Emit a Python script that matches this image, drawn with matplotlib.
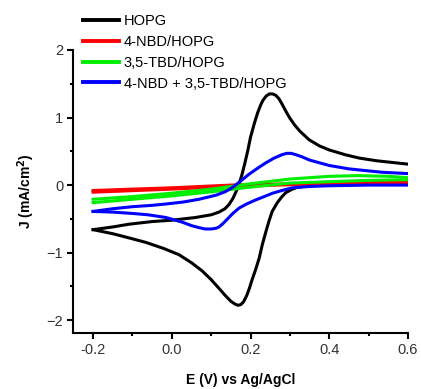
import matplotlib
matplotlib.use("Agg")
import matplotlib.pyplot as plt
from matplotlib.ticker import MultipleLocator

plt.rcParams['font.family'] = ['Liberation Sans', 'DejaVu Sans']

labels = ['HOPG', '4-NBD/HOPG', '3,5-TBD/HOPG', '4-NBD + 3,5-TBD/HOPG']
colors = ['black', '#ff0000', '#00ee00', '#0000ff']

# HOPG (forward / reverse sweep)
hopg_e_fwd = [-0.20, -0.15, -0.11, -0.05, 0.00, 0.06, 0.10, 0.12, 0.135, 0.145, 0.155,
              0.163, 0.170, 0.178, 0.185, 0.193, 0.200, 0.210, 0.218, 0.226, 0.232, 0.240,
              0.248, 0.256, 0.264, 0.272, 0.280, 0.290, 0.300, 0.312, 0.325, 0.349, 0.375,
              0.40, 0.44, 0.476, 0.52, 0.552, 0.60]
hopg_j_fwd = [-0.66, -0.62, -0.58, -0.54, -0.52, -0.48, -0.44, -0.40, -0.35, -0.29, -0.20,
              -0.10, 0.00, 0.15, 0.31, 0.51, 0.71, 0.92, 1.07, 1.19, 1.26, 1.32,
              1.35, 1.35, 1.33, 1.28, 1.20, 1.09, 0.99, 0.89, 0.80, 0.67, 0.58,
              0.52, 0.45, 0.40, 0.36, 0.34, 0.31]
hopg_e_rev = [0.60, 0.50, 0.40, 0.35, 0.32, 0.306, 0.29, 0.28, 0.268, 0.255, 0.247, 0.239,
              0.230, 0.222, 0.213, 0.204, 0.197, 0.190, 0.182, 0.175, 0.168, 0.160, 0.150,
              0.135, 0.120, 0.100, 0.077, 0.050, 0.018, -0.02, -0.065, -0.11, -0.15, -0.20]
hopg_j_rev = [0.02, 0.01, 0.00, -0.01, -0.03, -0.06, -0.11, -0.17, -0.26, -0.39, -0.53, -0.69,
              -0.88, -1.08, -1.25, -1.40, -1.53, -1.64, -1.73, -1.77, -1.78, -1.76, -1.72,
              -1.63, -1.53, -1.40, -1.27, -1.15, -1.03, -0.94, -0.85, -0.78, -0.72, -0.66]

# 4-NBD/HOPG
nbd_e_fwd = [-0.20, 0.00, 0.15, 0.30, 0.45, 0.60]
nbd_j_fwd = [-0.08, -0.04, 0.00, 0.02, 0.035, 0.045]
nbd_e_rev = [0.60, 0.45, 0.30, 0.15, 0.00, -0.20]
nbd_j_rev = [0.035, 0.025, 0.005, -0.02, -0.06, -0.105]

# 3,5-TBD/HOPG
tbd_e_fwd = [-0.20, -0.10, 0.00, 0.10, 0.20, 0.30, 0.40, 0.47, 0.55, 0.60]
tbd_j_fwd = [-0.21, -0.17, -0.12, -0.06, 0.02, 0.09, 0.13, 0.14, 0.13, 0.11]
tbd_e_rev = [0.60, 0.50, 0.40, 0.30, 0.20, 0.10, 0.00, -0.10, -0.20]
tbd_j_rev = [0.08, 0.07, 0.05, 0.03, -0.03, -0.10, -0.16, -0.21, -0.26]

# 4-NBD + 3,5-TBD/HOPG
mix_e_fwd = [-0.20, -0.15, -0.10, -0.05, -0.015, 0.03, 0.069, 0.112, 0.135, 0.153, 0.175,
             0.196, 0.218, 0.239, 0.260, 0.280, 0.292, 0.303, 0.315, 0.330, 0.350, 0.40,
             0.45, 0.50, 0.534, 0.60]
mix_j_fwd = [-0.39, -0.35, -0.32, -0.30, -0.28, -0.25, -0.21, -0.15, -0.10, -0.04, 0.06,
             0.16, 0.25, 0.33, 0.40, 0.45, 0.47, 0.47, 0.45, 0.42, 0.37, 0.29,
             0.24, 0.21, 0.19, 0.17]
mix_e_rev = [0.60, 0.50, 0.40, 0.35, 0.306, 0.28, 0.256, 0.235, 0.213, 0.190, 0.171, 0.155,
             0.145, 0.130, 0.120, 0.112, 0.100, 0.085, 0.069, 0.050, 0.027, -0.015, -0.06,
             -0.10, -0.15, -0.20]
mix_j_rev = [0.00, 0.00, -0.01, -0.02, -0.04, -0.08, -0.12, -0.17, -0.22, -0.28, -0.34, -0.42,
             -0.48, -0.57, -0.62, -0.64, -0.65, -0.65, -0.63, -0.60, -0.55, -0.48, -0.44,
             -0.42, -0.40, -0.39]

sweeps = [
    (hopg_e_fwd, hopg_j_fwd, hopg_e_rev, hopg_j_rev),
    (nbd_e_fwd, nbd_j_fwd, nbd_e_rev, nbd_j_rev),
    (tbd_e_fwd, tbd_j_fwd, tbd_e_rev, tbd_j_rev),
    (mix_e_fwd, mix_j_fwd, mix_e_rev, mix_j_rev),
]

fig = plt.figure(figsize=(4.21, 3.89), dpi=100)
ax = fig.add_axes([73 / 421, 56 / 389, 335 / 421, 283 / 389])

handles = []
for (ef, jf, er, jr), lab, c in zip(sweeps, labels, colors):
    h, = ax.plot(ef, jf, color=c, lw=2.2, solid_joinstyle='round', label=lab)
    ax.plot(er, jr, color=c, lw=2.2, solid_joinstyle='round')
    handles.append(h)

ax.set_xlim(-0.251, 0.6)
ax.set_ylim(-2.19, 2.0)
ax.spines['top'].set_visible(False)
ax.spines['right'].set_visible(False)
ax.spines['left'].set_linewidth(1.5)
ax.spines['bottom'].set_linewidth(1.5)

ax.xaxis.set_minor_locator(MultipleLocator(0.1))
ax.yaxis.set_major_locator(MultipleLocator(1))
ax.yaxis.set_minor_locator(MultipleLocator(0.5))
ax.set_xticks([-0.2, 0.0, 0.2, 0.4, 0.6])
ax.set_xticklabels(['-0.2', '0.0', '0.2', '0.4', '0.6'])
ax.tick_params(which='major', direction='out', length=4, width=1.5, labelsize=10.5,
               labelcolor='#333333', pad=3)
ax.tick_params(which='minor', direction='out', length=2.5, width=1.5)

ax.set_xlabel('E (V) vs Ag/AgCl', fontsize=10, fontweight='bold', labelpad=12)
ax.set_ylabel(r'J (mA/cm$^\mathbf{2}$)', fontsize=10, fontweight='bold', labelpad=7)

leg = ax.legend(handles=handles, loc='upper left', bbox_to_anchor=(83 / 421, 1 - 14 / 389),
                bbox_transform=fig.transFigure, frameon=False, fontsize=10.5,
                handlelength=2.5, handletextpad=0.3, labelspacing=0.47,
                borderaxespad=0, borderpad=0)
for line in leg.get_lines():
    line.set_linewidth(2.8)

fig.savefig('out.png', dpi=100)
